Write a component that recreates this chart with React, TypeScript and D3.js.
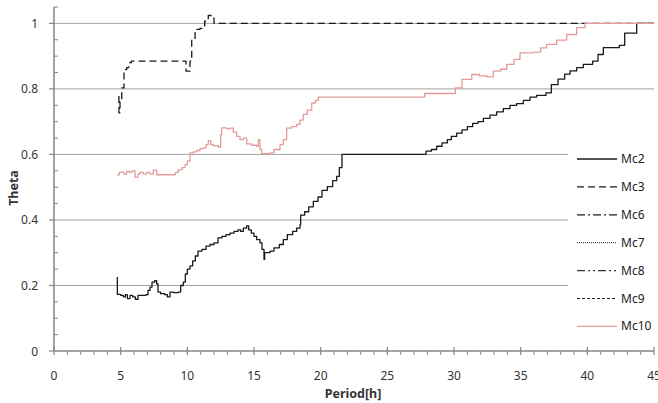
import React from 'react';
import * as d3 from 'd3';

// [period (h), theta]
const mc2: [number, number][] = [
  [4.75, 0.226], [4.75, 0.173], [5.0, 0.17], [5.2, 0.165], [5.35, 0.172], [5.5, 0.16],
  [5.7, 0.17], [5.9, 0.165], [6.1, 0.158], [6.3, 0.17], [6.6, 0.17], [6.9, 0.172],
  [7.05, 0.185], [7.2, 0.195], [7.35, 0.21], [7.55, 0.215], [7.7, 0.205], [7.8, 0.18],
  [8.0, 0.175], [8.3, 0.172], [8.5, 0.165], [8.7, 0.18], [9.0, 0.178], [9.3, 0.18],
  [9.5, 0.2], [9.7, 0.21], [9.85, 0.235], [10.0, 0.25], [10.2, 0.26], [10.4, 0.275],
  [10.6, 0.29], [10.8, 0.305], [11.1, 0.31], [11.4, 0.32], [11.7, 0.325], [12.0, 0.33],
  [12.3, 0.345], [12.6, 0.35], [12.9, 0.355], [13.2, 0.36], [13.5, 0.365], [13.8, 0.37],
  [14.0, 0.365], [14.2, 0.375], [14.45, 0.382], [14.6, 0.37], [14.8, 0.36], [15.0, 0.35],
  [15.2, 0.34], [15.45, 0.33], [15.6, 0.31], [15.75, 0.28], [15.8, 0.3], [16.2, 0.305],
  [16.5, 0.315], [16.9, 0.325], [17.2, 0.34], [17.5, 0.355], [17.9, 0.365], [18.2, 0.375],
  [18.45, 0.385], [18.5, 0.415], [18.8, 0.425], [19.1, 0.44], [19.45, 0.457], [19.8, 0.47],
  [20.1, 0.49], [20.5, 0.502], [20.9, 0.52], [21.2, 0.533], [21.4, 0.56], [21.6, 0.6],
  [27.5, 0.6], [27.9, 0.61], [28.3, 0.615], [28.7, 0.625], [29.1, 0.635], [29.5, 0.645],
  [29.8, 0.655], [30.2, 0.665], [30.6, 0.675], [31.0, 0.685], [31.4, 0.695], [31.8, 0.7],
  [32.2, 0.71], [32.7, 0.72], [33.2, 0.73], [33.7, 0.74], [34.2, 0.75], [34.7, 0.755],
  [35.2, 0.765], [35.7, 0.775], [36.2, 0.78], [36.9, 0.788], [37.3, 0.813], [37.8, 0.83],
  [38.3, 0.845], [38.7, 0.855], [39.2, 0.865], [39.7, 0.875], [40.4, 0.885], [40.8, 0.905],
  [41.2, 0.926], [42.4, 0.933], [42.8, 0.97], [43.3, 0.97], [43.7, 1.0], [45, 1.0],
];

const mc3: [number, number][] = [
  [4.87, 0.778], [4.87, 0.727], [4.95, 0.76], [5.08, 0.803], [5.25, 0.859], [5.45, 0.865],
  [5.6, 0.88], [5.8, 0.885], [9.83, 0.885], [9.9, 0.854], [10.15, 0.854], [10.2, 0.885],
  [10.33, 0.951], [10.58, 0.982], [10.95, 0.985], [11.3, 1.007], [11.57, 1.024],
  [11.83, 1.017], [12.0, 1.0], [45, 1.0],
];

// no visible trace for these in the reference
const mc6: [number, number][] = [];
const mc7: [number, number][] = [];
const mc8: [number, number][] = [];
const mc9: [number, number][] = [];

const mc10: [number, number][] = [
  [4.75, 0.538], [4.9, 0.545], [5.08, 0.546], [5.25, 0.54], [5.45, 0.548], [5.65, 0.545],
  [5.83, 0.55], [6.08, 0.53], [6.3, 0.54], [6.45, 0.545], [6.7, 0.54], [6.95, 0.545],
  [7.2, 0.54], [7.45, 0.552], [7.7, 0.538], [8.95, 0.538], [9.1, 0.545], [9.33, 0.553],
  [9.6, 0.56], [9.83, 0.569], [10.0, 0.58], [10.2, 0.605], [10.45, 0.608], [10.7, 0.612],
  [10.95, 0.618], [11.2, 0.62], [11.4, 0.63], [11.57, 0.642], [11.75, 0.63], [11.95, 0.627],
  [12.33, 0.622], [12.5, 0.66], [12.57, 0.681], [12.95, 0.678], [13.2, 0.68], [13.45, 0.668],
  [13.7, 0.655], [13.95, 0.645], [14.2, 0.65], [14.45, 0.632], [14.8, 0.628], [15.2, 0.625],
  [15.33, 0.645], [15.45, 0.615], [15.58, 0.602], [16.2, 0.605], [16.5, 0.615], [16.95, 0.63],
  [17.2, 0.645], [17.45, 0.68], [17.8, 0.685], [18.2, 0.692], [18.45, 0.705], [18.7, 0.722],
  [19.0, 0.735], [19.33, 0.757], [19.6, 0.765], [19.83, 0.775], [27.8, 0.775], [27.8, 0.786],
  [29.8, 0.786], [30.1, 0.803], [30.6, 0.829], [31.33, 0.844], [31.9, 0.84], [32.45, 0.837],
  [32.95, 0.854], [33.5, 0.86], [33.95, 0.875], [34.5, 0.89], [34.95, 0.91], [35.95, 0.912],
  [36.5, 0.925], [36.95, 0.936], [37.7, 0.949], [38.45, 0.966], [39.2, 0.987], [39.83, 1.0],
  [45, 1.0],
];

const xTicks = [0, 5, 10, 15, 20, 25, 30, 35, 40, 45];
const yTicks = [0, 0.2, 0.4, 0.6, 0.8, 1];
const yTickLabels = ['0', '0.2', '0.4', '0.6', '0.8', '1'];

type Series = {
  name: string;
  data: [number, number][];
  color: string;
  dash?: string;
  width: number;
};

const series: Series[] = [
  { name: 'Mc2', data: mc2, color: '#1a1a1a', width: 1.3 },
  { name: 'Mc3', data: mc3, color: '#1a1a1a', dash: '7,4', width: 1.3 },
  { name: 'Mc6', data: mc6, color: '#1a1a1a', dash: '8,3,2,3', width: 1.3 },
  { name: 'Mc7', data: mc7, color: '#1a1a1a', dash: '1,1', width: 1 },
  { name: 'Mc8', data: mc8, color: '#333', dash: '8,3,2,3,2,3', width: 1.3 },
  { name: 'Mc9', data: mc9, color: '#1a1a1a', dash: '3,2', width: 1.2 },
  { name: 'Mc10', data: mc10, color: '#e49c9b', width: 1.3 },
];

const W = 658;
const H = 403;
const left = 54;
const right = 654;
const top = 7;
const bottom = 351;
const font = '"Noto Sans", sans-serif';

export default function App() {
  const x = d3.scaleLinear([0, 45], [left, right]);
  const y = d3.scaleLinear([0, 1.05], [bottom, top]);
  // the logged values change in small jumps, so draw them as steps
  const line = d3
    .line<[number, number]>()
    .x((d) => x(d[0]))
    .y((d) => y(d[1]))
    .curve(d3.curveStepAfter);

  const xMinor = d3.range(0, 46).filter((v) => v % 5 !== 0);
  const yMinor = d3.range(1, 22).map((i) => i * 0.05).filter((_, i) => (i + 1) % 4 !== 0);

  const legendX = 577;
  const legendY = 159;
  const legendStep = 27.9;

  return (
    <svg
      width={W}
      height={H}
      style={{ position: 'absolute', left: 0, top: 0, background: '#fff' }}
    >
      {/* gridlines */}
      {yTicks.slice(1).map((v) => (
        <line key={v} x1={left} x2={right} y1={y(v)} y2={y(v)} stroke="#a3a3a3" strokeWidth={1} />
      ))}

      {/* series */}
      {series.map((s) =>
        s.data.length ? (
          <path
            key={s.name}
            d={line(s.data) ?? ''}
            fill="none"
            stroke={s.color}
            strokeWidth={s.width}
            strokeDasharray={s.dash}
            strokeLinejoin="round"
          />
        ) : null,
      )}

      {/* legend */}
      <rect x={568} y={142} width={90} height={198} fill="#fff" />
      {series.map((s, i) => {
        const ly = legendY + i * legendStep;
        return (
          <g key={s.name}>
            <line
              x1={legendX}
              x2={legendX + 40}
              y1={ly}
              y2={ly}
              stroke={s.color}
              strokeWidth={s.width}
              strokeDasharray={s.dash}
            />
            <text x={legendX + 44} y={ly + 4} fontFamily={font} fontSize={12} fill="#222">
              {s.name}
            </text>
          </g>
        );
      })}

      {/* axes */}
      <line x1={left} x2={left} y1={top} y2={bottom} stroke="#868686" strokeWidth={1.5} />
      <line x1={left} x2={right} y1={bottom} y2={bottom} stroke="#868686" strokeWidth={1.5} />
      {yTicks.map((v) => (
        <line key={v} x1={left - 5} x2={left} y1={y(v)} y2={y(v)} stroke="#868686" strokeWidth={1.2} />
      ))}
      {yMinor.map((v) => (
        <line key={v} x1={left} x2={left + 4} y1={y(v)} y2={y(v)} stroke="#868686" strokeWidth={1} />
      ))}
      {xTicks.map((v) => (
        <line key={v} x1={x(v)} x2={x(v)} y1={bottom - 4} y2={bottom + 4} stroke="#868686" strokeWidth={1.2} />
      ))}
      {xMinor.map((v) => (
        <line key={v} x1={x(v)} x2={x(v)} y1={bottom} y2={bottom + 4} stroke="#868686" strokeWidth={1} />
      ))}

      {/* tick labels */}
      {yTicks.map((v, i) => (
        <text
          key={v}
          x={38}
          y={y(v) + 4.5}
          textAnchor="end"
          fontFamily={font}
          fontSize={12}
          fill="#333"
        >
          {yTickLabels[i]}
        </text>
      ))}
      {xTicks.map((v) => (
        <text key={v} x={x(v)} y={380} textAnchor="middle" fontFamily={font} fontSize={12} fill="#333">
          {v}
        </text>
      ))}

      {/* axis titles */}
      <text
        x={353}
        y={398}
        textAnchor="middle"
        fontFamily={font}
        fontSize={12.5}
        fontWeight="bold"
        fill="#333"
      >
        Period[h]
      </text>
      <text
        transform="translate(18,188) rotate(-90)"
        textAnchor="middle"
        fontFamily={font}
        fontSize={12.5}
        fontWeight="bold"
        fill="#333"
      >
        Theta
      </text>
    </svg>
  );
}
